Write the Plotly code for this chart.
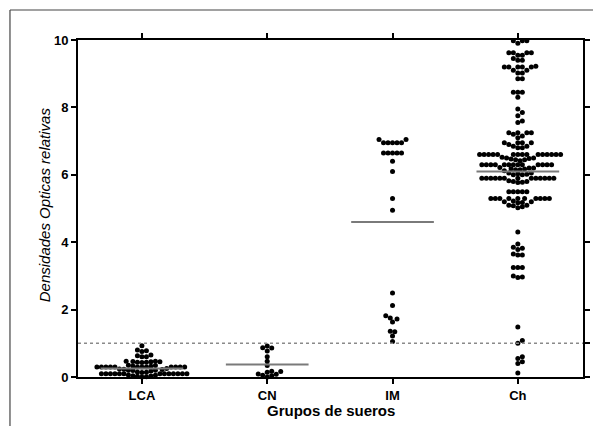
import plotly.graph_objects as go

categories = ["LCA", "CN", "IM", "Ch"]

lca = [0.93,
       0.80, 0.78, 0.76,
       0.65, 0.63, 0.60, 0.60,
       0.47, 0.47, 0.46, 0.45, 0.45, 0.44, 0.44, 0.43,
       0.35, 0.34, 0.33, 0.32,
       0.30, 0.30, 0.30, 0.30, 0.30, 0.30, 0.30, 0.30, 0.30, 0.30, 0.30, 0.30,
       0.25, 0.24, 0.23, 0.22, 0.20, 0.20, 0.19, 0.18,
       0.15, 0.14, 0.13,
       0.10, 0.10, 0.10, 0.10, 0.10, 0.10, 0.10, 0.10, 0.10, 0.10, 0.10, 0.10, 0.10,
       0.06, 0.05, 0.04, 0.03, 0.02, 0.01, 0.00]

cn = [0.92, 0.87, 0.86, 0.77, 0.60, 0.47, 0.34,
      0.17, 0.16, 0.14, 0.09, 0.08, 0.05, 0.04, 0.00]

im = [7.05, 7.05, 6.95, 6.95, 6.95, 6.95, 6.95,
      6.65, 6.65, 6.65, 6.65, 6.65,
      6.40, 6.10, 5.30, 4.95,
      2.49, 2.12, 1.82, 1.75, 1.72, 1.63, 1.36, 1.34, 1.22, 1.05]

ch = [9.98, 9.98, 9.98, 9.90,
      9.62, 9.62, 9.62, 9.62, 9.55, 9.55, 9.45, 9.40, 9.40,
      9.22, 9.20, 9.20, 9.20, 9.20, 9.20, 9.10, 9.10, 9.02, 9.02,
      8.85, 8.85, 8.45, 8.45, 8.45, 8.30,
      7.95, 7.85, 7.75, 7.60, 7.55,
      7.25, 7.25, 7.25, 7.25, 7.20, 7.15, 7.10,
      6.95, 6.95, 6.95, 6.95, 6.90, 6.85, 6.85, 6.80, 6.80,
      6.60, 6.60, 6.60, 6.60, 6.60, 6.60, 6.60, 6.60, 6.60, 6.60, 6.60, 6.60, 6.60, 6.60, 6.60,
      6.52, 6.50, 6.50, 6.48, 6.47, 6.45, 6.45, 6.42,
      6.30, 6.30, 6.30, 6.30, 6.30, 6.30, 6.30, 6.30, 6.30, 6.30, 6.30, 6.30, 6.30,
      6.22, 6.20, 6.20, 6.18, 6.17, 6.15, 6.15, 6.12,
      6.05, 6.05, 6.03, 6.02, 6.00, 6.00,
      5.90, 5.90, 5.90, 5.90, 5.90, 5.90, 5.90, 5.90, 5.90, 5.90, 5.90, 5.90, 5.90,
      5.82, 5.80, 5.80, 5.78, 5.77,
      5.50, 5.50, 5.50, 5.50, 5.50,
      5.30, 5.30, 5.30, 5.30, 5.30, 5.30, 5.30, 5.30, 5.30, 5.30,
      5.22, 5.20, 5.20, 5.18, 5.17, 5.10, 5.10, 5.08, 5.05, 5.02,
      4.30, 3.95, 3.85, 3.82, 3.78, 3.65, 3.62, 3.62,
      3.25, 3.25, 3.25, 3.00, 2.97, 2.95,
      1.48, 1.08, 1.00, 0.60, 0.55, 0.45, 0.40, 0.12]

means = [0.25, 0.37, 4.60, 6.10]
cutoff = 1.0
y_ticks = [0, 2, 4, 6, 8, 10]
y_ticks_right = [0, 1, 2, 4, 6, 8, 10]

X_RANGE = [-0.51, 3.52]
Y_RANGE = [0, 10]
PLOT_W, PLOT_H = 505, 337
PX_X = PLOT_W / (X_RANGE[1] - X_RANGE[0])
PX_Y = PLOT_H / (Y_RANGE[1] - Y_RANGE[0])


def swarm(values, diam=4.5):
    """Beeswarm layout: returns (values, x-offsets in data units)."""
    vals = sorted(values)
    placed = []
    offs = []
    cands = [0.0]
    for i in range(1, 80):
        cands += [i * diam / 2, -i * diam / 2]
    for v in vals:
        y = v * PX_Y
        chosen = 0.0
        for c in cands:
            ok = True
            for px, py in placed:
                if (c - px) ** 2 + (y - py) ** 2 < (diam * 0.97) ** 2:
                    ok = False
                    break
            if ok:
                chosen = c
                break
        placed.append((chosen, y))
        offs.append(chosen / PX_X)
    return vals, offs


FONT = "Liberation Sans, Arial, sans-serif"
fig = go.Figure()

for i, group in enumerate([lca, cn, im, ch]):
    vals, offs = swarm(group)
    fig.add_trace(go.Scatter(
        x=[i + o for o in offs], y=vals, mode="markers",
        marker=dict(color="black", size=5, line=dict(width=0)),
        cliponaxis=False, showlegend=False, hoverinfo="skip"))

# mean lines
for i, m in enumerate(means):
    fig.add_trace(go.Scatter(
        x=[i - 0.33, i + 0.33], y=[m, m], mode="lines",
        line=dict(color="#7a7a7a", width=2),
        showlegend=False, hoverinfo="skip"))

# cutoff dotted line on right axis
fig.add_trace(go.Scatter(
    x=X_RANGE, y=[cutoff, cutoff], mode="lines", yaxis="y2",
    line=dict(color="#8a8a8a", width=1.5, dash="dot"),
    showlegend=False, hoverinfo="skip"))

axis_common = dict(showgrid=False, zeroline=False, showline=True,
                   linecolor="black", linewidth=2, ticks="outside",
                   ticklen=5, tickwidth=2, tickcolor="black",
                   tickfont=dict(family=FONT, size=13, color="#000000", weight="bold"))

fig.update_layout(
    width=593, height=418,
    margin=dict(l=70, r=18, t=32, b=49),
    paper_bgcolor="white", plot_bgcolor="white",
    xaxis=dict(range=X_RANGE, tickvals=list(range(len(categories))),
               ticktext=categories, mirror="ticks", **axis_common),
    yaxis=dict(range=Y_RANGE, tickvals=y_ticks, **axis_common),
    yaxis2=dict(range=Y_RANGE, tickvals=y_ticks_right, overlaying="y",
                side="right", showticklabels=False, **axis_common),
    annotations=[
        dict(text="<i>Densidades Opticas relativas</i>", xref="paper", yref="paper",
             x=-0.067, y=0.51, textangle=-90, showarrow=False,
             xanchor="center", yanchor="middle",
             font=dict(family=FONT, size=15, color="#000000")),
        dict(text="<b>Grupos de sueros</b>", xref="paper", yref="paper",
             x=0.5, y=-0.098, showarrow=False, xanchor="center", yanchor="middle",
             font=dict(family=FONT, size=15, color="#000000")),
    ],
    shapes=[
        dict(type="line", xref="paper", yref="paper", x0=-0.1347, x1=1.2,
             y0=1.089, y1=1.089, line=dict(color="#444", width=1.2)),
        dict(type="line", xref="paper", yref="paper", x0=-0.1347, x1=-0.1347,
             y0=-0.3, y1=1.089, line=dict(color="#444", width=1.2)),
    ],
)

fig.write_html("out.html")
